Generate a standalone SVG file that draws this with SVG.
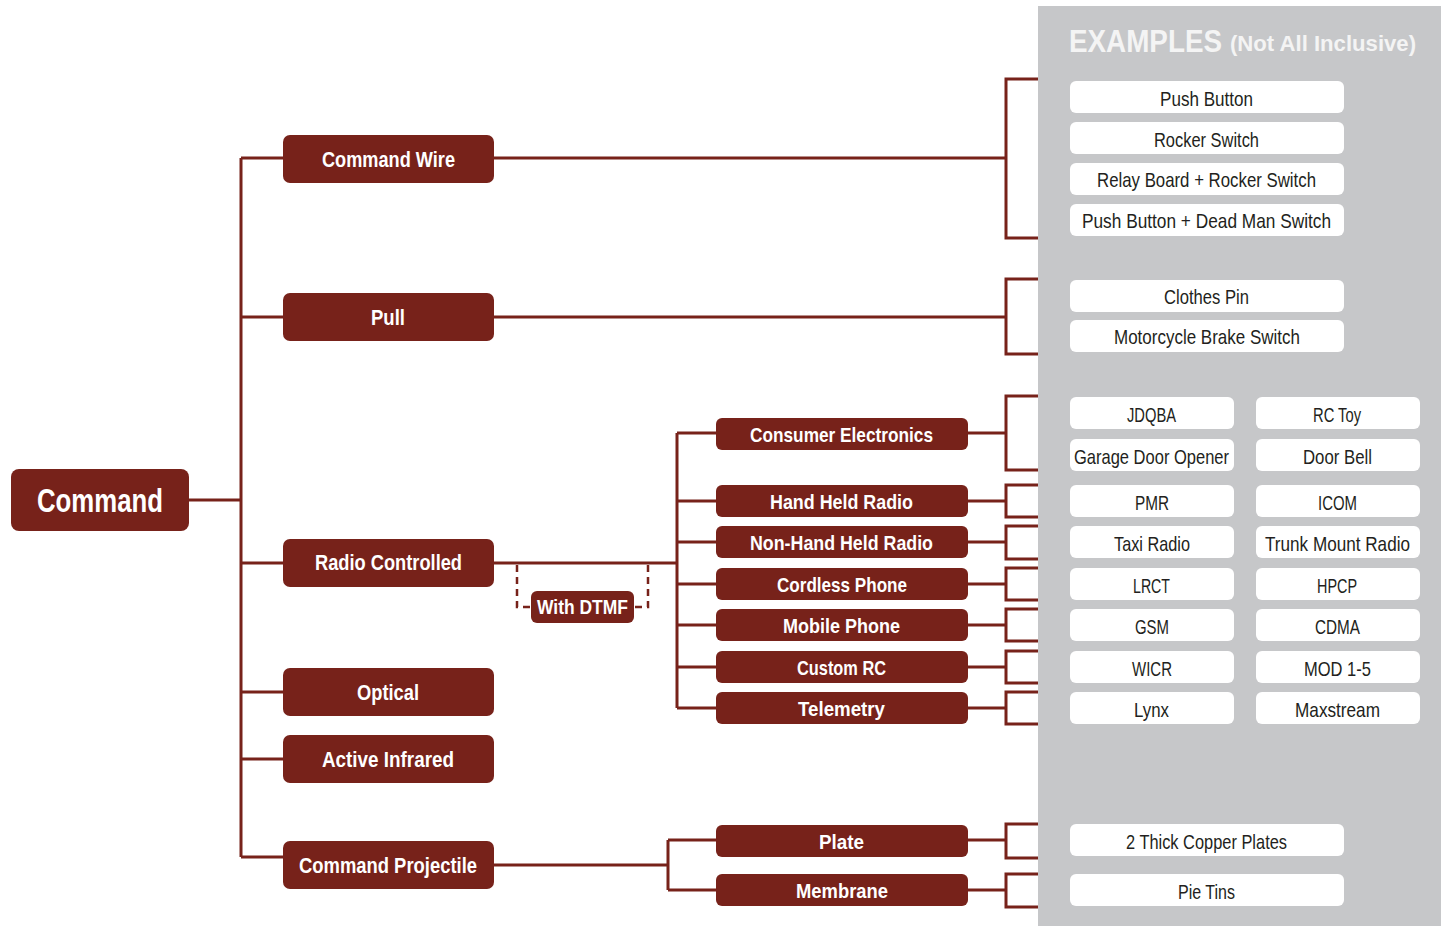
<svg xmlns="http://www.w3.org/2000/svg" width="1441" height="926" viewBox="0 0 1441 926">
  <style>
    .node { fill: #77221a; }
    .ex { fill: #ffffff; }
    .wire { fill: none; stroke: #77221a; stroke-width: 3; }
    .dash { fill: none; stroke: #77221a; stroke-width: 2.5; stroke-dasharray: 7 5; }
    text { font-family: "Liberation Sans", Arial, sans-serif; }
    .nt { fill: #ffffff; font-weight: bold; font-size: 22px; text-anchor: middle; }
    .st { fill: #ffffff; font-weight: bold; font-size: 21px; text-anchor: middle; }
    .big { fill: #ffffff; font-weight: bold; font-size: 34px; text-anchor: middle; }
    .et { fill: #231f20; font-size: 21px; text-anchor: middle; }
    .hd { fill: #f4f4f4; font-weight: bold; font-size: 31px; }
    .hd2 { fill: #f4f4f4; font-weight: bold; font-size: 22px; }
  </style>

  <!-- examples panel -->
  <rect x="1038" y="6" width="403" height="920" fill="#c6c7c9"/>
  <text class="hd" x="1069" y="52" textLength="153" lengthAdjust="spacingAndGlyphs">EXAMPLES</text>
  <text class="hd2" x="1230" y="51" textLength="186" lengthAdjust="spacingAndGlyphs">(Not All Inclusive)</text>

  <!-- connectors -->
  <g id="connectors">
    <!-- root trunk -->
    <path class="wire" d="M189 500 H241 M241 158 V857 M241 158 H283 M241 317 H283 M241 563 H283 M241 692 H283 M241 759 H283 M241 857 H283"/>
    <!-- command wire / pull -->
    <path class="wire" d="M494 158 H1006 M1038 79 H1006 V238 H1038"/>
    <path class="wire" d="M494 317 H1006 M1038 279 H1006 V354 H1038"/>
    <!-- radio controlled -->
    <path class="wire" d="M494 563 H677 M677 433 V708 M677 433 H716 M677 501 H716 M677 542 H716 M677 584 H716 M677 625 H716 M677 667 H716 M677 708 H716"/>
    <path class="dash" d="M517 565 V607 H531 M648 565 V607 H634"/>
    <!-- radio sub-branches to examples -->
    <path class="wire" d="M968 433 H1006 M1038 396 H1006 V470 H1038"/>
    <path class="wire" d="M968 501 H1006 M1038 485 H1006 V517 H1038"/>
    <path class="wire" d="M968 542 H1006 M1038 526 H1006 V559 H1038"/>
    <path class="wire" d="M968 584 H1006 M1038 568 H1006 V600 H1038"/>
    <path class="wire" d="M968 625 H1006 M1038 609 H1006 V641 H1038"/>
    <path class="wire" d="M968 667 H1006 M1038 651 H1006 V683 H1038"/>
    <path class="wire" d="M968 708 H1006 M1038 692 H1006 V724 H1038"/>
    <!-- command projectile -->
    <path class="wire" d="M494 865 H668 M668 840 V890 M668 840 H716 M668 890 H716"/>
    <path class="wire" d="M968 840 H1006 M1038 824 H1006 V858 H1038"/>
    <path class="wire" d="M968 890 H1006 M1038 874 H1006 V907 H1038"/>
  </g>

  <!-- main nodes -->
  <g id="n-command"><rect class="node" x="11" y="469" width="178" height="62" rx="8"/><text class="big" x="100" y="512" textLength="126" lengthAdjust="spacingAndGlyphs">Command</text></g>
  <g id="n-command-wire"><rect class="node" x="283" y="135" width="211" height="48" rx="7"/><text class="nt" x="388.5" y="167" textLength="133" lengthAdjust="spacingAndGlyphs">Command Wire</text></g>
  <g id="n-pull"><rect class="node" x="283" y="293" width="211" height="48" rx="7"/><text class="nt" x="388" y="325" textLength="34" lengthAdjust="spacingAndGlyphs">Pull</text></g>
  <g id="n-radio"><rect class="node" x="283" y="539" width="211" height="48" rx="7"/><text class="nt" x="388.5" y="570" textLength="147" lengthAdjust="spacingAndGlyphs">Radio Controlled</text></g>
  <g id="n-optical"><rect class="node" x="283" y="668" width="211" height="48" rx="7"/><text class="nt" x="388" y="700" textLength="62" lengthAdjust="spacingAndGlyphs">Optical</text></g>
  <g id="n-infrared"><rect class="node" x="283" y="735" width="211" height="48" rx="7"/><text class="nt" x="388" y="767" textLength="132" lengthAdjust="spacingAndGlyphs">Active Infrared</text></g>
  <g id="n-projectile"><rect class="node" x="283" y="841" width="211" height="48" rx="7"/><text class="nt" x="388" y="873" textLength="178" lengthAdjust="spacingAndGlyphs">Command Projectile</text></g>
  <g id="n-dtmf"><rect class="node" x="531" y="591" width="103" height="32" rx="6"/><text class="st" x="582.5" y="614" textLength="91" lengthAdjust="spacingAndGlyphs">With DTMF</text></g>

  <!-- radio controlled sub-nodes -->
  <g id="n-consumer"><rect class="node" x="716" y="418" width="252" height="32" rx="6"/><text class="st" x="841.5" y="442" textLength="183" lengthAdjust="spacingAndGlyphs">Consumer Electronics</text></g>
  <g id="n-handheld"><rect class="node" x="716" y="485" width="252" height="32" rx="6"/><text class="st" x="841.5" y="509" textLength="143" lengthAdjust="spacingAndGlyphs">Hand Held Radio</text></g>
  <g id="n-nonhandheld"><rect class="node" x="716" y="526" width="252" height="32" rx="6"/><text class="st" x="841.5" y="550" textLength="183" lengthAdjust="spacingAndGlyphs">Non-Hand Held Radio</text></g>
  <g id="n-cordless"><rect class="node" x="716" y="568" width="252" height="32" rx="6"/><text class="st" x="842" y="592" textLength="130" lengthAdjust="spacingAndGlyphs">Cordless Phone</text></g>
  <g id="n-mobile"><rect class="node" x="716" y="609" width="252" height="32" rx="6"/><text class="st" x="841.5" y="633" textLength="117" lengthAdjust="spacingAndGlyphs">Mobile Phone</text></g>
  <g id="n-customrc"><rect class="node" x="716" y="651" width="252" height="32" rx="6"/><text class="st" x="841.5" y="675" textLength="89" lengthAdjust="spacingAndGlyphs">Custom RC</text></g>
  <g id="n-telemetry"><rect class="node" x="716" y="692" width="252" height="32" rx="6"/><text class="st" x="841.5" y="716" textLength="87" lengthAdjust="spacingAndGlyphs">Telemetry</text></g>
  <g id="n-plate"><rect class="node" x="716" y="825" width="252" height="32" rx="6"/><text class="st" x="841.5" y="849" textLength="45" lengthAdjust="spacingAndGlyphs">Plate</text></g>
  <g id="n-membrane"><rect class="node" x="716" y="874" width="252" height="32" rx="6"/><text class="st" x="842" y="898" textLength="92" lengthAdjust="spacingAndGlyphs">Membrane</text></g>

  <!-- example boxes -->
  <g id="ex-push"><rect class="ex" x="1070" y="81" width="274" height="32" rx="6"/><text class="et" x="1206.5" y="106" textLength="93" lengthAdjust="spacingAndGlyphs">Push Button</text></g>
  <g id="ex-rocker"><rect class="ex" x="1070" y="122" width="274" height="32" rx="6"/><text class="et" x="1206.5" y="147" textLength="105" lengthAdjust="spacingAndGlyphs">Rocker Switch</text></g>
  <g id="ex-relay"><rect class="ex" x="1070" y="163" width="274" height="32" rx="6"/><text class="et" x="1206.5" y="187" textLength="219" lengthAdjust="spacingAndGlyphs">Relay Board + Rocker Switch</text></g>
  <g id="ex-deadman"><rect class="ex" x="1070" y="204" width="274" height="32" rx="6"/><text class="et" x="1206.5" y="228" textLength="249" lengthAdjust="spacingAndGlyphs">Push Button + Dead Man Switch</text></g>
  <g id="ex-clothes"><rect class="ex" x="1070" y="280" width="274" height="32" rx="6"/><text class="et" x="1206.5" y="304" textLength="85" lengthAdjust="spacingAndGlyphs">Clothes Pin</text></g>
  <g id="ex-brake"><rect class="ex" x="1070" y="320" width="274" height="32" rx="6"/><text class="et" x="1207" y="344" textLength="186" lengthAdjust="spacingAndGlyphs">Motorcycle Brake Switch</text></g>

  <g id="ex-jdqba"><rect class="ex" x="1070" y="397" width="164" height="32" rx="6"/><text class="et" x="1151.5" y="422" textLength="49" lengthAdjust="spacingAndGlyphs">JDQBA</text></g>
  <g id="ex-rctoy"><rect class="ex" x="1256" y="397" width="164" height="32" rx="6"/><text class="et" x="1337" y="422" textLength="48" lengthAdjust="spacingAndGlyphs">RC Toy</text></g>
  <g id="ex-garage"><rect class="ex" x="1070" y="439" width="164" height="32" rx="6"/><text class="et" x="1151.5" y="464" textLength="155" lengthAdjust="spacingAndGlyphs">Garage Door Opener</text></g>
  <g id="ex-doorbell"><rect class="ex" x="1256" y="439" width="164" height="32" rx="6"/><text class="et" x="1337.5" y="464" textLength="69" lengthAdjust="spacingAndGlyphs">Door Bell</text></g>
  <g id="ex-pmr"><rect class="ex" x="1070" y="485" width="164" height="32" rx="6"/><text class="et" x="1152" y="510" textLength="34" lengthAdjust="spacingAndGlyphs">PMR</text></g>
  <g id="ex-icom"><rect class="ex" x="1256" y="485" width="164" height="32" rx="6"/><text class="et" x="1337.5" y="510" textLength="39" lengthAdjust="spacingAndGlyphs">ICOM</text></g>
  <g id="ex-taxi"><rect class="ex" x="1070" y="526" width="164" height="32" rx="6"/><text class="et" x="1152" y="551" textLength="76" lengthAdjust="spacingAndGlyphs">Taxi Radio</text></g>
  <g id="ex-trunk"><rect class="ex" x="1256" y="526" width="164" height="32" rx="6"/><text class="et" x="1337.5" y="551" textLength="145" lengthAdjust="spacingAndGlyphs">Trunk Mount Radio</text></g>
  <g id="ex-lrct"><rect class="ex" x="1070" y="568" width="164" height="32" rx="6"/><text class="et" x="1151.5" y="593" textLength="37" lengthAdjust="spacingAndGlyphs">LRCT</text></g>
  <g id="ex-hpcp"><rect class="ex" x="1256" y="568" width="164" height="32" rx="6"/><text class="et" x="1337" y="593" textLength="40" lengthAdjust="spacingAndGlyphs">HPCP</text></g>
  <g id="ex-gsm"><rect class="ex" x="1070" y="609" width="164" height="32" rx="6"/><text class="et" x="1152" y="634" textLength="34" lengthAdjust="spacingAndGlyphs">GSM</text></g>
  <g id="ex-cdma"><rect class="ex" x="1256" y="609" width="164" height="32" rx="6"/><text class="et" x="1337.5" y="634" textLength="45" lengthAdjust="spacingAndGlyphs">CDMA</text></g>
  <g id="ex-wicr"><rect class="ex" x="1070" y="651" width="164" height="32" rx="6"/><text class="et" x="1152" y="676" textLength="40" lengthAdjust="spacingAndGlyphs">WICR</text></g>
  <g id="ex-mod"><rect class="ex" x="1256" y="651" width="164" height="32" rx="6"/><text class="et" x="1337.5" y="676" textLength="67" lengthAdjust="spacingAndGlyphs">MOD 1-5</text></g>
  <g id="ex-lynx"><rect class="ex" x="1070" y="692" width="164" height="32" rx="6"/><text class="et" x="1151.5" y="717" textLength="35" lengthAdjust="spacingAndGlyphs">Lynx</text></g>
  <g id="ex-maxstream"><rect class="ex" x="1256" y="692" width="164" height="32" rx="6"/><text class="et" x="1337.5" y="717" textLength="85" lengthAdjust="spacingAndGlyphs">Maxstream</text></g>

  <g id="ex-copper"><rect class="ex" x="1070" y="824" width="274" height="32" rx="6"/><text class="et" x="1206.5" y="849" textLength="161" lengthAdjust="spacingAndGlyphs">2 Thick Copper Plates</text></g>
  <g id="ex-pietins"><rect class="ex" x="1070" y="874" width="274" height="32" rx="6"/><text class="et" x="1206.5" y="899" textLength="57" lengthAdjust="spacingAndGlyphs">Pie Tins</text></g>
</svg>
